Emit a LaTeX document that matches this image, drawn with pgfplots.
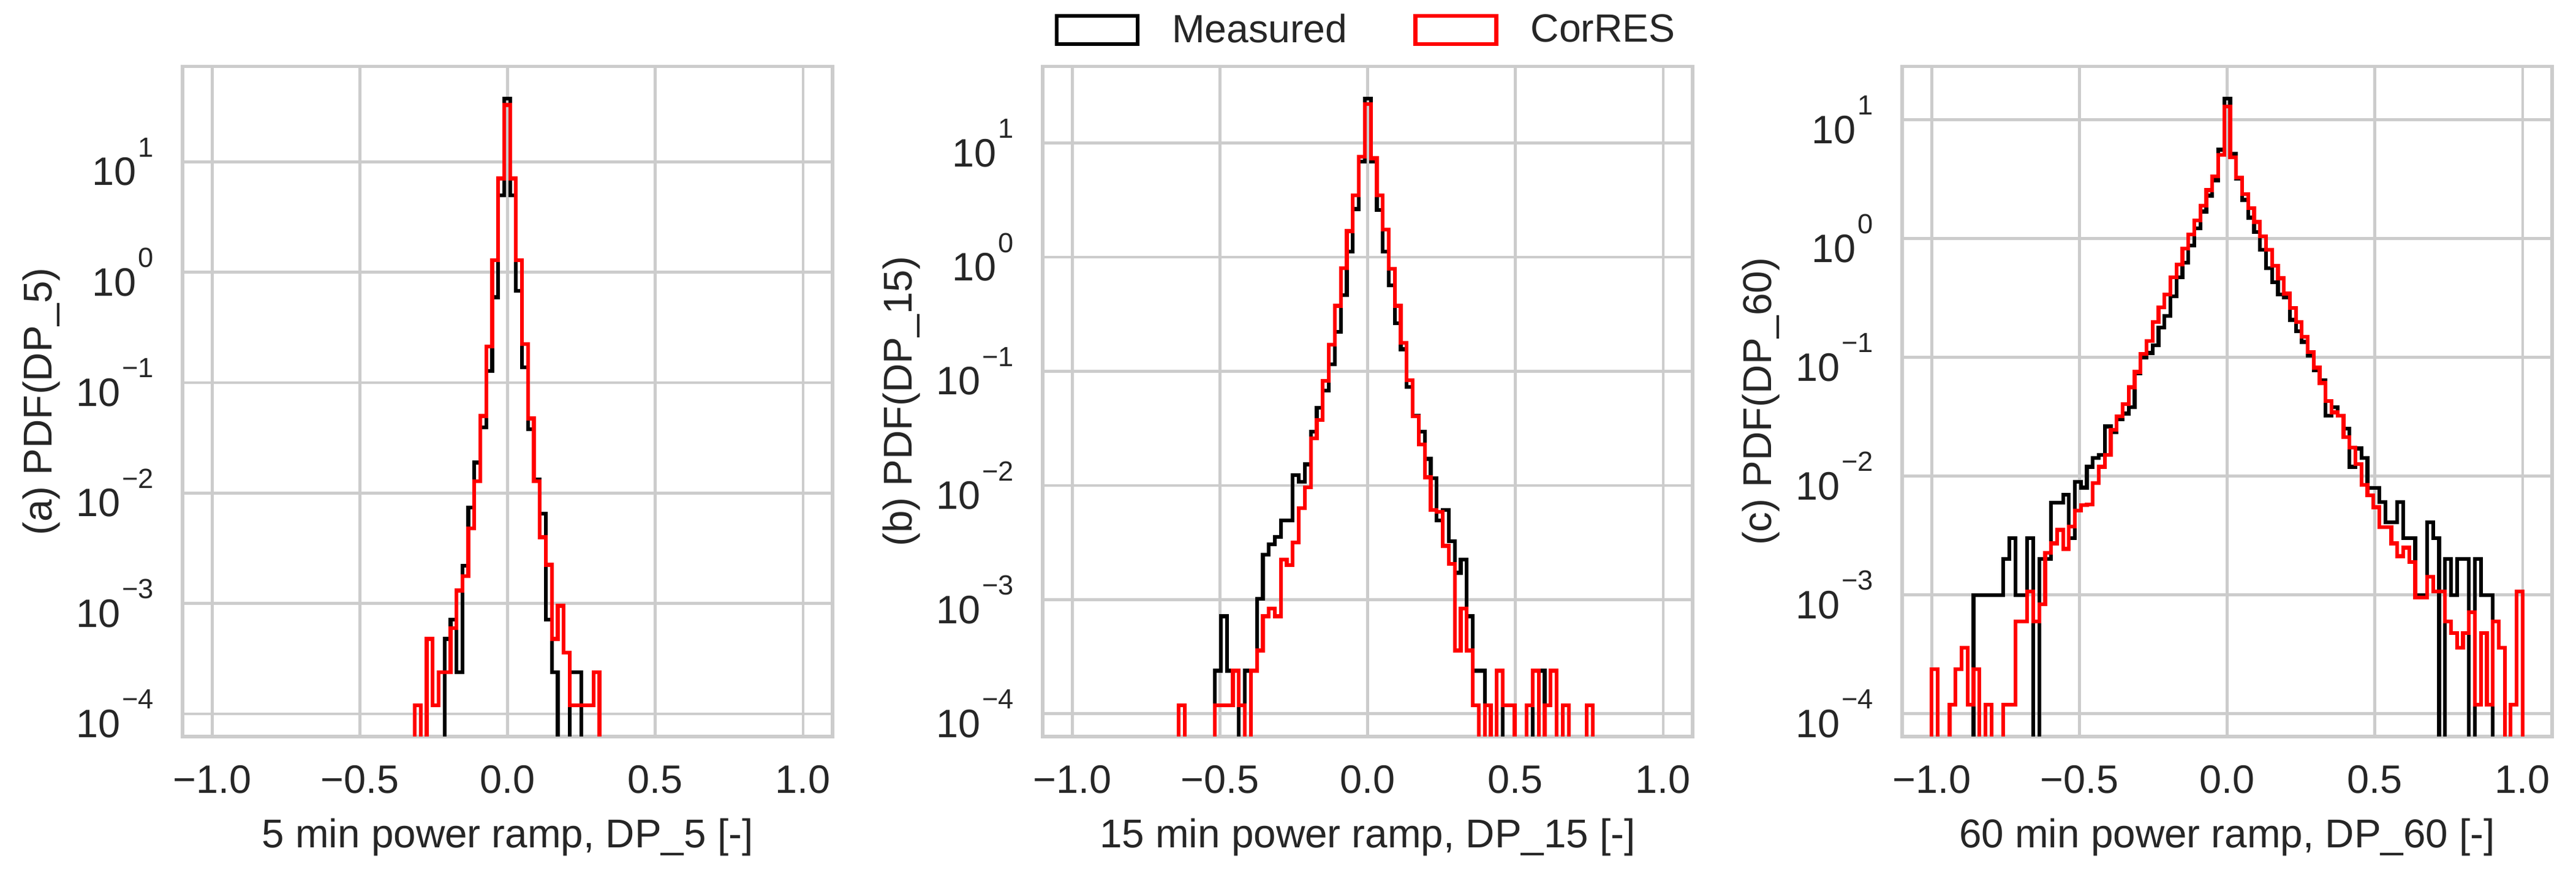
\documentclass[border=0pt]{standalone}
\usepackage{fontspec}
\setmainfont{Liberation Sans}
\usepackage{pgfplots}
\usepackage{pgfplotstable}
\pgfplotsset{compat=1.18}
\definecolor{gridc}{RGB}{204,204,204}
\definecolor{txt}{RGB}{38,38,38}
\newcommand{\sci}[1]{10\hspace{0.8pt}\raisebox{11.2pt}{\fontsize{10.9}{12}\selectfont #1}}

% ---------- panel (a): bins edges -0.314 + 0.02016 k ----------
\pgfplotstableread{
k y
0 1e-9
0 1.19e-4
1 1e-9
2 4.77e-4
3 1.19e-4
4 2.38e-4
5 2.38e-4
6 5.96e-4
7 1.31e-3
8 1.77e-3
9 4.8e-3
10 1.28e-2
11 4.99e-2
12 0.213
13 1.28
14 7.08
15 32.8
16 7.08
17 1.28
18 0.224
19 0.0473
20 0.0128
21 0.00398
22 2.24e-3
23 4.77e-4
24 9.5e-4
25 3.58e-4
26 1.19e-4
27 1.19e-4
28 1.19e-4
29 1.19e-4
30 2.38e-4
31 2.38e-4
31 1e-9
}\aRed
\pgfplotstableread{
k y
5 1e-9
5 4.77e-4
6 7.15e-4
7 2.38e-4
8 2.2e-3
9 0.0074
10 0.0189
11 0.0394
12 0.127
13 0.594
14 4.98
15 37.4
16 4.98
17 0.677
18 0.137
19 0.038
20 0.0132
21 0.0065
22 7.15e-4
23 2.38e-4
24 1e-9
25 1e-9
26 2.38e-4
27 2.38e-4
28 2.38e-4
28 1e-9
}\aBlk

% ---------- panel (b): bins edges -0.639 + 0.0203 k ----------
\pgfplotstableread{
k y
0 1e-9
0 1.19e-4
1 1e-9
2 1e-9
3 1e-9
4 1e-9
5 1e-9
6 1.19e-4
7 1.19e-4
8 1.19e-4
9 2.38e-4
10 1.19e-4
11 1e-9
12 2.38e-4
13 3.58e-4
14 7.15e-4
15 8.34e-4
16 7.15e-4
17 2.24e-3
18 2.01e-3
19 3.18e-3
20 6.31e-3
21 9.66e-3
22 0.0259
23 0.0375
24 0.0824
25 0.171
26 0.375
27 0.803
28 1.69
29 3.50
30 7.55
31 22.0
32 7.36
33 3.50
34 1.74
35 0.789
36 0.375
37 0.178
38 0.0832
39 0.0403
40 0.0228
41 0.0118
42 6.12e-3
43 5.86e-3
44 2.96e-3
45 2.05e-3
46 3.58e-4
47 8.34e-4
48 3.58e-4
49 1.19e-4
50 1e-9
51 1.19e-4
52 1e-9
53 2.38e-4
54 1.19e-4
55 1.19e-4
56 1e-9
57 1e-9
58 1.19e-4
59 2.38e-4
60 1e-9
61 1.19e-4
62 2.38e-4
63 1e-9
64 1.19e-4
65 1e-9
66 1e-9
67 1e-9
68 1.19e-4
69 1.19e-4
69 1e-9
}\bRed
\pgfplotstableread{
k y
6 1e-9
6 2.38e-4
7 7.15e-4
8 2.38e-4
9 2.38e-4
10 1e-9
11 2.38e-4
12 2.38e-4
13 1.02e-3
14 2.48e-3
15 3.04e-3
16 3.53e-3
17 4.92e-3
18 4.92e-3
19 0.0123
20 0.0108
21 0.0153
22 0.0296
23 0.048
24 0.068
25 0.115
26 0.222
27 0.467
28 1.12
29 2.64
30 6.9
31 24.6
32 6.92
33 2.58
34 1.12
35 0.566
36 0.264
37 0.156
38 0.073
39 0.041
40 0.0296
41 0.0171
42 0.0116
43 4.92e-3
44 6.12e-3
45 3.24e-3
46 1.72e-3
47 2.24e-3
48 7.15e-4
49 2.38e-4
50 2.38e-4
51 1e-9
52 1e-9
53 2.38e-4
54 1e-9
55 1e-9
56 1e-9
57 1e-9
58 1e-9
59 2.38e-4
60 2.38e-4
61 2.38e-4
61 1e-9
}\bBlk

% ---------- panel (c): bins edges -1 + 0.020202 k ----------
\pgfplotstableread{
k y
0 1e-9
0 2.38e-4
1 1e-9
2 1e-9
3 1.19e-4
4 2.38e-4
5 3.58e-4
6 1.19e-4
7 2.38e-4
8 1e-9
9 1.19e-4
10 1e-9
11 1e-9
12 1.19e-4
13 1.19e-4
14 5.96e-4
15 5.96e-4
16 1.07e-3
17 5.96e-4
18 8.34e-4
19 2.26e-3
20 2.72e-3
21 3.53e-3
22 2.44e-3
23 3.78e-3
24 5.13e-3
25 5.7e-3
26 5.8e-3
27 8.77e-3
28 0.012
29 0.0151
30 0.0246
31 0.0318
32 0.0404
33 0.0561
34 0.0755
35 0.107
36 0.137
37 0.198
38 0.265
39 0.339
40 0.472
41 0.604
42 0.828
43 1.08
44 1.42
45 1.89
46 2.56
47 3.34
48 5.05
49 12.9
50 4.82
51 3.28
52 2.36
53 1.80
54 1.38
55 1.05
56 0.807
57 0.594
58 0.464
59 0.345
60 0.261
61 0.198
62 0.149
63 0.111
64 0.082
65 0.061
66 0.043
67 0.0345
68 0.0323
69 0.0214
70 0.0174
71 0.0127
72 8.41e-3
73 6.9e-3
74 5.47e-3
75 3.71e-3
76 3.71e-3
77 2.72e-3
78 2.12e-3
79 2.5e-3
80 1.9e-3
81 9.5e-4
82 9.5e-4
83 1.43e-3
84 1.07e-3
85 1.07e-3
86 5.96e-4
87 4.77e-4
88 3.58e-4
89 4.77e-4
90 7.15e-4
91 1.19e-4
92 4.77e-4
93 1.19e-4
94 5.96e-4
95 3.58e-4
96 1e-9
97 1.19e-4
98 1.07e-3
99 1.07e-3
99 1e-9
}\cRed
\pgfplotstableread{
k y
7 1e-9
7 1.0e-3
8 1.0e-3
9 1.0e-3
10 1.0e-3
11 1.0e-3
12 2.0e-3
13 3.0e-3
14 1.0e-3
15 1.0e-3
16 3.0e-3
17 1e-9
18 2.0e-3
19 2.0e-3
20 6.0e-3
21 6.0e-3
22 7.0e-3
23 3.0e-3
24 9.0e-3
25 8.0e-3
26 0.012
27 0.0142
28 0.0151
29 0.0262
30 0.0236
31 0.030
32 0.0337
33 0.0381
34 0.0736
35 0.10
36 0.109
37 0.126
38 0.178
39 0.224
40 0.326
41 0.472
42 0.63
43 0.877
44 1.22
45 1.69
46 2.30
47 3.1
48 5.61
49 15.1
50 5.17
51 3.2
52 2.12
53 1.50
54 1.14
55 0.807
56 0.566
57 0.428
58 0.339
59 0.32
60 0.207
61 0.166
62 0.135
63 0.104
64 0.078
65 0.064
66 0.0323
67 0.038
68 0.0323
69 0.0252
70 0.012
71 0.0171
72 0.0142
73 7.94e-3
74 7.94e-3
75 6.04e-3
76 4.1e-3
77 4.1e-3
78 6.04e-3
79 3.0e-3
80 3.0e-3
81 1.0e-3
82 1.0e-3
83 4.1e-3
84 3.0e-3
85 1e-9
86 2.0e-3
87 1.0e-3
88 2.0e-3
89 2.0e-3
90 1e-9
91 2.0e-3
92 1.0e-3
93 1.0e-3
94 1.0e-3
94 1e-9
}\cBlk

\pgfplotsset{
  mypanel/.style={
    scale only axis, width=255.6pt, height=263.62pt,
    xmin=-1.1, xmax=1.1,
    xtick={-1,-0.5,0,0.5,1},
    xticklabels={−1.0,−0.5,0.0,0.5,1.0},
    ytick={1e-4,1e-3,1e-2,1e-1,1,10},
    yticklabels={\sci{−4},\sci{−3},\sci{−2},\sci{−1},\sci{0},\sci{1}},
    major tick length=0pt, minor tick length=0pt,
    tick style={draw=none},
    xmajorgrids, ymajorgrids,
    major grid style={line width=1.1pt, draw=gridc},
    axis line style={line width=1.25pt, draw=gridc},
    every tick label/.append style={font=\fontsize{15.6}{18}\selectfont, text=txt, inner sep=0pt},
    xticklabel style={anchor=north, yshift=-11.3pt},
    yticklabel style={anchor=east, xshift=-11.1pt},
    every axis x label/.style={at={([yshift=-43.84pt]axis description cs:0.5,0)}, anchor=base, font=\fontsize{15.8}{19}\selectfont, text=txt, inner sep=0pt},
    every axis y label/.style={at={([xshift=-51.5pt]axis description cs:0,0.5)}, rotate=90, anchor=base, font=\fontsize{15.8}{19}\selectfont, text=txt, inner sep=0pt},
  },
  mystep/.style={const plot mark left, line width=1.5pt, line join=miter},
}

\begin{document}
\begin{tikzpicture}
\path[use as bounding box] (0,0) rectangle (1012.98pt,342.08pt);

\begin{axis}[mypanel, ymode=log, anchor=south west, at={(71.79pt,52.28pt)}, ymin=6.22e-5, ymax=73.1,
  xlabel={5 min power ramp, DP\_5 [-]}, ylabel={(a) PDF(DP\_5)}]
\addplot[mystep, black, forget plot] table[x expr={-0.314+0.02016*\thisrow{k}}, y=y] {\aBlk};
\addplot[mystep, red, forget plot] table[x expr={-0.314+0.02016*\thisrow{k}}, y=y] {\aRed};
\end{axis}

\begin{axis}[mypanel, ymode=log, anchor=south west, at={(410.01pt,52.28pt)}, ymin=6.31e-5, ymax=46.8,
  xlabel={15 min power ramp, DP\_15 [-]}, ylabel={(b) PDF(DP\_15)},
  legend columns=2,
  legend cell align=left,
  legend style={at={(0.496,1)}, anchor=south, yshift=7.8pt, draw=none, fill=none,
    font=\fontsize{15.5}{18}\selectfont, text=txt, inner sep=0pt,
    nodes={inner sep=0pt},
    /tikz/every odd column/.append style={column sep=12.8pt},
    /tikz/every even column/.append style={column sep=26pt}},
  legend image code/.code={\draw[#1] (0pt,-5.6pt) rectangle (31.8pt,5.6pt);}]
\addplot[mystep, black, forget plot] table[x expr={-0.639+0.0203*\thisrow{k}}, y=y] {\bBlk};
\addplot[mystep, red, forget plot] table[x expr={-0.639+0.0203*\thisrow{k}}, y=y] {\bRed};
\addlegendimage{draw=black, line width=1.5pt, line join=miter}
\addlegendentry{Measured}
\addlegendimage{draw=red, line width=1.5pt, line join=miter}
\addlegendentry{CorRES}
\end{axis}

\begin{axis}[mypanel, ymode=log, anchor=south west, at={(748.00pt,52.28pt)}, ymin=6.43e-5, ymax=28.1,
  xlabel={60 min power ramp, DP\_60 [-]}, ylabel={(c) PDF(DP\_60)}]
\addplot[mystep, black, forget plot] table[x expr={-1+0.020202*\thisrow{k}}, y=y] {\cBlk};
\addplot[mystep, red, forget plot] table[x expr={-1+0.020202*\thisrow{k}}, y=y] {\cRed};
\end{axis}
\end{tikzpicture}
\end{document}
